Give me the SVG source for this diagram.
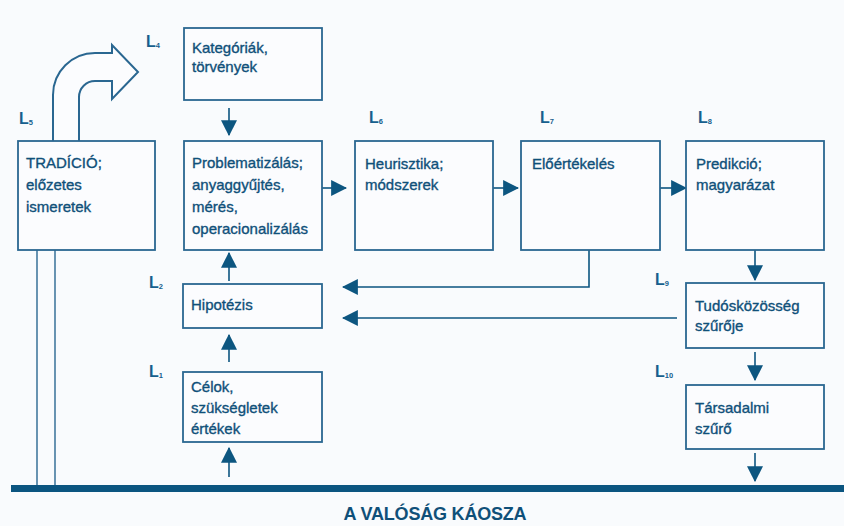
<svg xmlns="http://www.w3.org/2000/svg" width="844" height="526" viewBox="0 0 844 526">
<defs>
<marker id="ah" markerUnits="userSpaceOnUse" markerWidth="16" markerHeight="16" viewBox="0 0 14 14" refX="13" refY="7" orient="auto">
<path d="M0,0 L14,7 L0,14 Z" fill="#0d5680"/>
</marker>
</defs>
<style>
.box{fill:#fbfcfe;stroke:#2a6791;stroke-width:1.8}
.t{font-family:"Liberation Sans",Arial,sans-serif;font-size:15px;fill:#0f5079;stroke:#0f5079;stroke-width:0.35}
.lab{font-family:"Liberation Sans",Arial,sans-serif;font-size:16px;font-weight:bold;fill:#175f8e}
.sub{font-size:7.5px}
.c{fill:none;stroke:#0d5680;stroke-width:1.6}
.thin{fill:none;stroke:#2a6791;stroke-width:1.4}
</style>
<rect width="844" height="526" fill="#f9fbfd"/>

<g id="connectors">
<line class="c" x1="229" y1="108" x2="229" y2="135" marker-end="url(#ah)"/>
<line class="c" x1="322" y1="188" x2="346" y2="188" marker-end="url(#ah)"/>
<line class="c" x1="493" y1="188" x2="518" y2="188" marker-end="url(#ah)"/>
<line class="c" x1="660" y1="188" x2="686" y2="188" marker-end="url(#ah)"/>
<line class="c" x1="755" y1="250" x2="755" y2="280" marker-end="url(#ah)"/>
<line class="c" x1="755" y1="352" x2="755" y2="380" marker-end="url(#ah)"/>
<line class="c" x1="755" y1="453" x2="755" y2="481" marker-end="url(#ah)"/>
<polyline class="c" points="589,250 589,287 343,287" marker-end="url(#ah)"/>
<line class="c" x1="677" y1="318" x2="343" y2="318" marker-end="url(#ah)"/>
<line class="c" x1="229" y1="281" x2="229" y2="253" marker-end="url(#ah)"/>
<line class="c" x1="229" y1="362" x2="229" y2="335" marker-end="url(#ah)"/>
<line class="c" x1="229" y1="477" x2="229" y2="448" marker-end="url(#ah)"/>
<line class="thin" x1="37" y1="250" x2="37" y2="486"/>
<line class="thin" x1="55" y1="250" x2="55" y2="486"/>
<path d="M53,141 L53,95 A42,42 0 0 1 95,53 L112,53 L112,45 L138,72 L112,99 L112,81 L95,81 A16,16 0 0 0 79,97 L79,141" fill="#fbfcfe" stroke="#2a6791" stroke-width="2" stroke-linejoin="miter"/>
</g>

<g id="tradicio">
<rect class="box" x="18" y="141" width="137" height="109"/>
<text class="t" x="26" y="168">TRADÍCIÓ;</text>
<text class="t" x="26" y="190">előzetes</text>
<text class="t" x="26" y="212">ismeretek</text>
<text class="lab" x="19" y="124">L<tspan class="sub" dy="1">5</tspan></text>
</g>

<g id="kategoriak">
<rect class="box" x="184" y="28" width="138" height="72"/>
<text class="t" x="192" y="53">Kategóriák,</text>
<text class="t" x="192" y="72">törvények</text>
<text class="lab" x="146" y="47">L<tspan class="sub" dy="1">4</tspan></text>
</g>

<g id="problematizalas">
<rect class="box" x="184" y="141" width="138" height="109"/>
<text class="t" x="192" y="168">Problematizálás;</text>
<text class="t" x="192" y="190">anyaggyűjtés,</text>
<text class="t" x="192" y="212">mérés,</text>
<text class="t" x="192" y="234">operacionalizálás</text>
</g>

<g id="heurisztika">
<rect class="box" x="355" y="141" width="138" height="109"/>
<text class="t" x="365" y="169">Heurisztika;</text>
<text class="t" x="365" y="190">módszerek</text>
<text class="lab" x="369" y="123">L<tspan class="sub" dy="1">6</tspan></text>
</g>

<g id="eloertekeles">
<rect class="box" x="521" y="141" width="139" height="109"/>
<text class="t" x="532" y="169">Előértékelés</text>
<text class="lab" x="540" y="123">L<tspan class="sub" dy="1">7</tspan></text>
</g>

<g id="predikcio">
<rect class="box" x="686" y="141" width="138" height="109"/>
<text class="t" x="696" y="169">Predikció;</text>
<text class="t" x="696" y="190">magyarázat</text>
<text class="lab" x="698" y="123">L<tspan class="sub" dy="1">8</tspan></text>
</g>

<g id="hipotezis">
<rect class="box" x="183" y="284" width="139" height="44"/>
<text class="t" x="191" y="310">Hipotézis</text>
<text class="lab" x="149" y="288">L<tspan class="sub" dy="1">2</tspan></text>
</g>

<g id="celok">
<rect class="box" x="183" y="372" width="139" height="70"/>
<text class="t" x="191" y="392">Célok,</text>
<text class="t" x="191" y="413">szükségletek</text>
<text class="t" x="191" y="434">értékek</text>
<text class="lab" x="149" y="377">L<tspan class="sub" dy="1">1</tspan></text>
</g>

<g id="tudoskozosseg">
<rect class="box" x="686" y="283" width="138" height="65"/>
<text class="t" x="695" y="311">Tudósközösség</text>
<text class="t" x="695" y="331">szűrője</text>
<text class="lab" x="655" y="285">L<tspan class="sub" dy="1">9</tspan></text>
</g>

<g id="tarsadalmi">
<rect class="box" x="686" y="385" width="138" height="64"/>
<text class="t" x="695" y="413">Társadalmi</text>
<text class="t" x="695" y="434">szűrő</text>
<text class="lab" x="655" y="377">L<tspan class="sub" dy="1">10</tspan></text>
</g>

<g id="valosag">
<rect x="11" y="485" width="833" height="7" fill="#0b5580"/>
<text x="435" y="520" text-anchor="middle" font-family="'Liberation Sans',Arial,sans-serif" font-size="18" font-weight="bold" fill="#0f5079" letter-spacing="-0.2">A VALÓSÁG KÁOSZA</text>
</g>
</svg>
